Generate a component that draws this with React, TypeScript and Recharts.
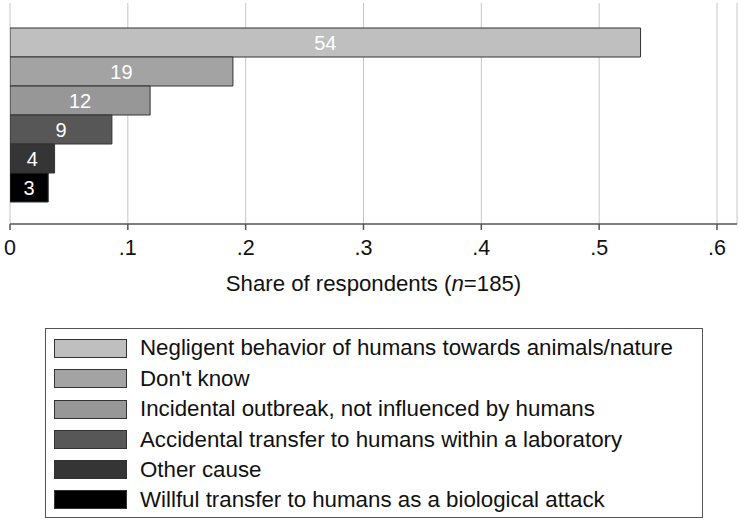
import React from "react";
import { BarChart, Bar, XAxis, YAxis, CartesianGrid, LabelList } from "recharts";

const categories = [
  "Negligent behavior of humans towards animals/nature",
  "Don't know",
  "Incidental outbreak, not influenced by humans",
  "Accidental transfer to humans within a laboratory",
  "Other cause",
  "Willful transfer to humans as a biological attack",
];
const counts = [99, 35, 22, 16, 7, 6];
const totalN = 185;
const colors = ["#bfbfbf", "#a3a3a3", "#979797", "#575757", "#353535", "#000000"];
const xTicks = [0, 0.1, 0.2, 0.3, 0.4, 0.5, 0.6];
const xTickLabels = ["0", ".1", ".2", ".3", ".4", ".5", ".6"];

const keys = categories.map((_, i) => `s${i}`);
const row: Record<string, any> = { name: "all" };
keys.forEach((k, i) => {
  row[k] = counts[i] / totalN;
});
const data = [row];

const FONT = "'Liberation Sans', Arial, Helvetica, sans-serif";

const Title = (props: any) => {
  const vb = props.viewBox || {};
  const cx = (vb.x || 0) + (vb.width || 0) / 2;
  const y = (vb.y || 0) + 67;
  return (
    <text x={cx} y={y} textAnchor="middle" fontSize={22.2} fill="#111" fontFamily={FONT}>
      <tspan>Share of respondents (</tspan>
      <tspan fontStyle="italic">n</tspan>
      <tspan>={totalN})</tspan>
    </text>
  );
};

export default function App() {
  const rowCenters = [347, 377.5, 408, 438.5, 468.5, 498.5];
  return (
    <div
      style={{
        position: "absolute",
        left: 0,
        top: 0,
        width: 739,
        height: 521,
        background: "#fff",
        fontFamily: FONT,
      }}
    >
      <BarChart
        width={739}
        height={310}
        data={data}
        layout="vertical"
        margin={{ top: 3, right: 2, bottom: 6, left: 10 }}
        barCategoryGap={25}
        barGap={0}
      >
        <CartesianGrid horizontal={false} vertical={true} stroke="#c6c6c6" strokeWidth={1} />
        <XAxis
          type="number"
          domain={[0, 0.617]}
          ticks={xTicks}
          allowDataOverflow
          height={80}
          tickSize={6}
          tickMargin={10}
          tickFormatter={(v: number) => xTickLabels[xTicks.indexOf(v)] ?? String(v)}
          tick={{ fontSize: 21.5, fill: "#111", fontFamily: FONT }}
          axisLine={{ stroke: "#555", strokeWidth: 1.5 }}
          tickLine={{ stroke: "#555", strokeWidth: 1.5 }}
          label={{ content: (p: any) => <Title {...p} /> }}
        />
        <YAxis
          type="category"
          dataKey="name"
          width={0}
          tick={false}
          tickLine={false}
          axisLine={{ stroke: "#555", strokeWidth: 1.5 }}
        />
        {keys.map((k, i) => (
          <Bar
            key={k}
            dataKey={k}
            name={categories[i]}
            fill={colors[i]}
            stroke="#333"
            strokeWidth={1}
            isAnimationActive={false}
          >
            <LabelList
              dataKey={k}
              position="center"
              fill="#fff"
              fontSize={20}
              fontFamily={FONT}
              formatter={(v: any) => String(Math.round(Number(v) * 100))}
            />
          </Bar>
        ))}
      </BarChart>
      <div
        style={{
          position: "absolute",
          left: 45,
          top: 328,
          width: 656,
          height: 188,
          border: "1px solid #555",
          boxSizing: "content-box",
        }}
      >
        {categories.map((c, i) => (
          <div
            key={c}
            style={{
              position: "absolute",
              left: 0,
              top: rowCenters[i] - 328 - 15,
              height: 30,
              display: "flex",
              alignItems: "center",
              whiteSpace: "nowrap",
            }}
          >
            <div
              style={{
                marginLeft: 8,
                width: 71,
                height: 17,
                background: colors[i],
                border: "1px solid #333",
              }}
            />
            <span style={{ marginLeft: 13, fontSize: 22.3, color: "#111", lineHeight: "30px" }}>{c}</span>
          </div>
        ))}
      </div>
    </div>
  );
}
